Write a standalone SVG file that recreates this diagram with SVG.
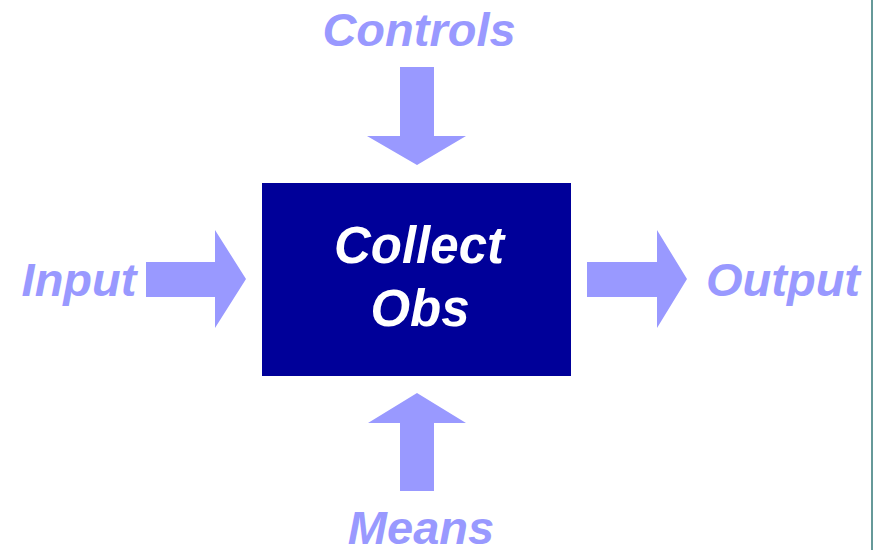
<svg xmlns="http://www.w3.org/2000/svg" width="875" height="550" viewBox="0 0 875 550">
<style>
.lbl{font-family:"Liberation Sans",Arial,sans-serif;font-weight:bold;font-style:italic;font-size:47px;fill:#9999FF;text-anchor:middle}
.main{font-family:"Liberation Sans",Arial,sans-serif;font-weight:bold;font-style:italic;font-size:51px;fill:#FFFFFF;text-anchor:middle}
.arr{fill:#9999FF}
</style>
<rect width="875" height="550" fill="#FFFFFF"/>
<line x1="872" y1="0" x2="872" y2="550" stroke="#669999" stroke-width="2"/>
<g id="process">
<rect x="262" y="183" width="309" height="193" fill="#000099"/>
<text class="main" x="419" y="263">Collect</text>
<text class="main" x="420" y="326">Obs</text>
</g>
<g id="controls"><text class="lbl" x="419" y="46">Controls</text></g>
<g id="input"><text class="lbl" x="79" y="296">Input</text></g>
<g id="output"><text class="lbl" x="783" y="296">Output</text></g>
<g id="means"><text class="lbl" x="421" y="544">Means</text></g>
<g id="connectors">
<polygon class="arr" points="400,67 434,67 434,136 466,136 417,165 367,136 400,136"/>
<polygon class="arr" points="146,262 215,262 215,230 246,279 215,328 215,297 146,297"/>
<polygon class="arr" points="587,262 657,262 657,230 687,279 657,328 657,297 587,297"/>
<polygon class="arr" points="400,491 434,491 434,423 466,423 417,393 368,423 400,423"/>
</g>
</svg>
